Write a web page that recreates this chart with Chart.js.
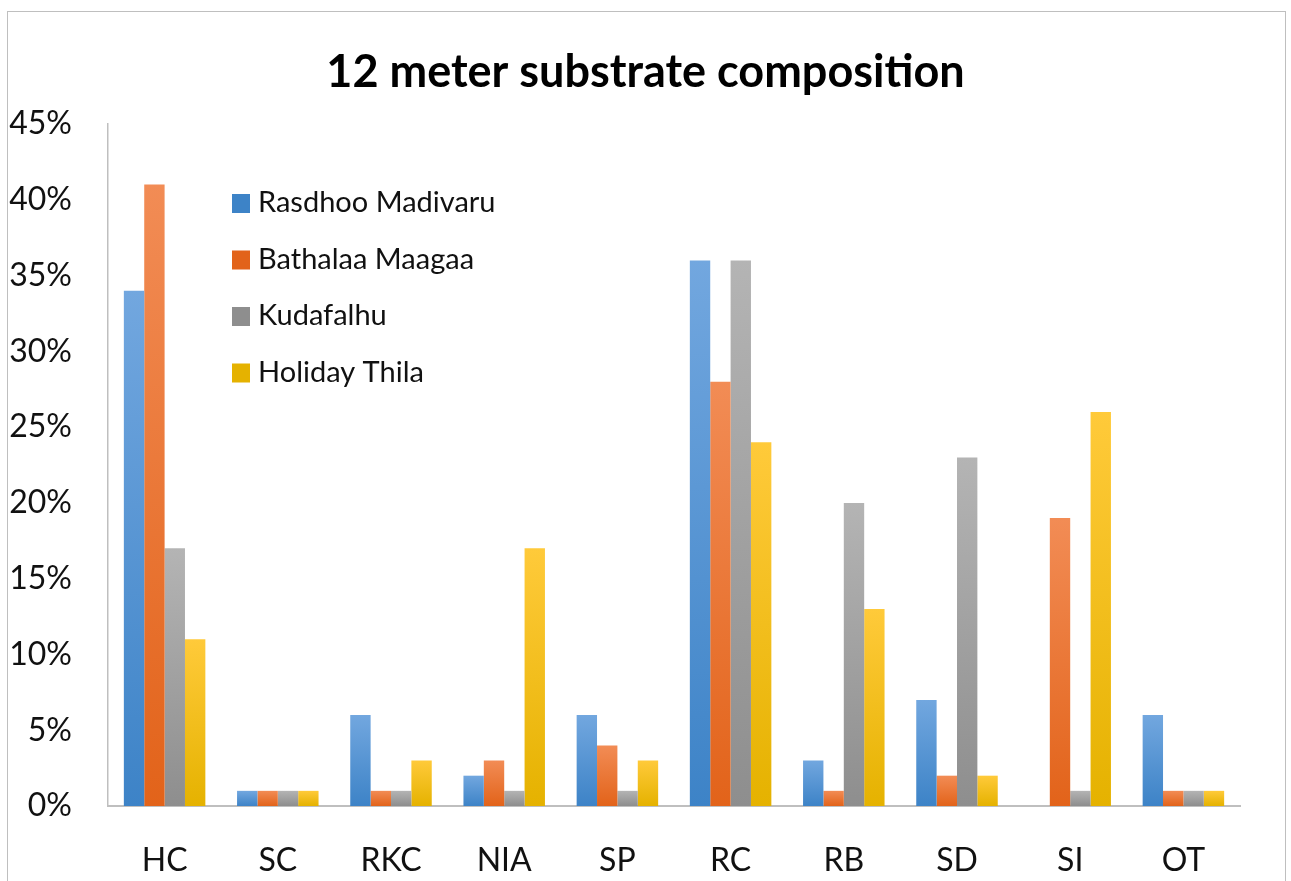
<!DOCTYPE html>
<html>
<head>
<meta charset="utf-8">
<script src="https://cdn.jsdelivr.net/npm/chart.js@4"></script>
<style>
  html, body { margin: 0; padding: 0; background: #fff; }
  #wrap { position: relative; width: 1291px; height: 881px; overflow: hidden; }
  #frame { position: absolute; left: 7px; top: 11px; width: 1277px; height: 900px; border: 1px solid #bfbfbf; }
  canvas { position: absolute; left: 0; top: 0; }
</style>
</head>
<body>
<div id="wrap">
  <div id="frame"></div>
  <canvas id="barChart" width="1291" height="881"></canvas>
</div>
<script>
const categories = ["HC", "SC", "RKC", "NIA", "SP", "RC", "RB", "SD", "SI", "OT"];

const rasdhooMadivaru = [34, 1, 6, 2, 6, 36, 3, 7, 0, 6];
const bathalaaMaagaa = [41, 1, 1, 3, 4, 28, 1, 2, 19, 1];
const kudafalhu = [17, 1, 1, 1, 1, 36, 20, 23, 1, 1];
const holidayThila = [11, 1, 3, 17, 3, 24, 13, 2, 26, 1];

const yTicks = [0, 5, 10, 15, 20, 25, 30, 35, 40, 45];

const FONT = "Lato, 'Open Sans', sans-serif";

// top / bottom colours of each bar's gradient
const shades = [
  ["#72a7df", "#3d83c7"],
  ["#f28c55", "#e2631a"],
  ["#b4b4b4", "#8e8e8e"],
  ["#ffca3a", "#e5b200"],
];

function barFill(i) {
  return (context) => {
    const chart = context.chart;
    const y = chart.scales.y;
    if (!y || context.parsed === undefined || context.parsed.y === undefined) {
      return shades[i][1];
    }
    const top = y.getPixelForValue(context.parsed.y);
    const base = y.getPixelForValue(0);
    if (!isFinite(top) || base - top < 1) return shades[i][1];
    const g = chart.ctx.createLinearGradient(0, top, 0, base);
    g.addColorStop(0, shades[i][0]);
    g.addColorStop(1, shades[i][1]);
    return g;
  };
}

// legend drawn inside the plot, top-left, like the original
const insideLegend = {
  id: "insideLegend",
  afterDraw(chart) {
    const ctx = chart.ctx;
    ctx.save();
    ctx.font = "29px " + FONT;
    ctx.textBaseline = "middle";
    chart.data.datasets.forEach((ds, i) => {
      const cy = 203 + i * 56.5;
      ctx.fillStyle = shades[i][1];
      ctx.fillRect(232, cy - 9, 18, 19);
      ctx.fillStyle = "#111";
      ctx.fillText(ds.label, 258, cy);
    });
    ctx.restore();
  },
};

const data = {
  labels: categories,
  datasets: [
    { label: "Rasdhoo Madivaru", data: rasdhooMadivaru, backgroundColor: barFill(0) },
    { label: "Bathalaa Maagaa", data: bathalaaMaagaa, backgroundColor: barFill(1) },
    { label: "Kudafalhu", data: kudafalhu, backgroundColor: barFill(2) },
    { label: "Holiday Thila", data: holidayThila, backgroundColor: barFill(3) },
  ],
};

const config = {
  type: "bar",
  data: data,
  options: {
    responsive: false,
    animation: false,
    datasets: {
      bar: {
        barPercentage: 1,
        categoryPercentage: 0.72,
      },
    },
    layout: {
      padding: 0,
    },
    plugins: {
      legend: { display: false },
      tooltip: { enabled: false },
      title: {
        display: true,
        text: "12 meter substrate composition",
        color: "#000",
        font: { family: FONT, size: 45, weight: "bold", lineHeight: 1.2 },
        padding: { top: 45, bottom: 25 },
      },
    },
    scales: {
      y: {
        min: 0,
        max: 45,
        afterBuildTicks: (scale) => {
          scale.ticks = yTicks.map((v) => ({ value: v }));
        },
        afterFit: (scale) => {
          scale.width = 108;
        },
        grid: { display: false, drawTicks: false },
        border: { display: true, color: "#bfbfbf", width: 1.5 },
        ticks: {
          padding: 36,
          color: "#111",
          font: { family: FONT, size: 32 },
          callback: (v) => v + "%",
        },
      },
      // empty right margin so the title stays centred on the whole frame
      spacer: {
        position: "right",
        display: true,
        afterFit: (scale) => {
          scale.width = 51;
        },
        grid: { display: false, drawTicks: false },
        border: { display: false },
        ticks: { display: false },
      },
      x: {
        afterFit: (scale) => {
          scale.height = 75;
        },
        grid: { display: false, drawTicks: false },
        border: { display: true, color: "#bfbfbf", width: 2 },
        ticks: {
          padding: 35,
          color: "#111",
          font: { family: FONT, size: 32 },
        },
      },
    },
  },
  plugins: [insideLegend],
};

const myChart = new Chart(document.getElementById("barChart").getContext("2d"), config);
</script>
</body>
</html>
